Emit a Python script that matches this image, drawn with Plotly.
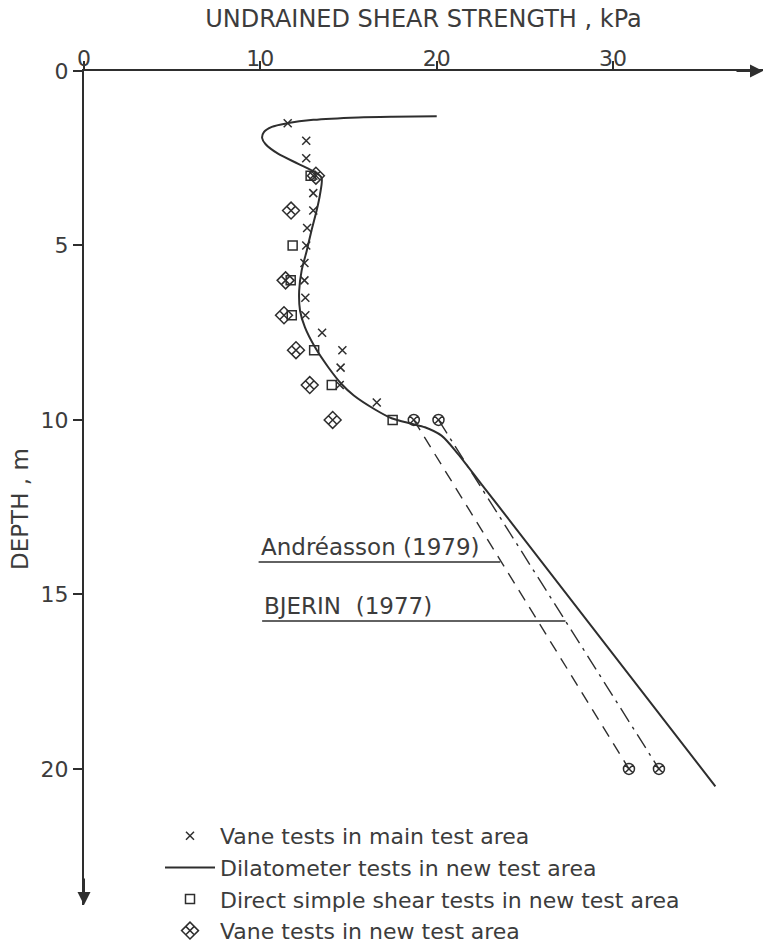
import plotly.graph_objects as go

# ---------------- data ----------------
# Vane tests in main test area (x markers)
vane_main_su = [11.55, 12.6, 12.6, 13.0, 13.0, 13.0, 12.65, 12.6, 12.5, 12.5, 12.55, 12.55, 13.5, 14.65, 14.55, 14.5, 16.6]
vane_main_depth = [1.5, 2.0, 2.5, 3.0, 3.5, 4.0, 4.5, 5.0, 5.5, 6.0, 6.5, 7.0, 7.5, 8.0, 8.5, 9.0, 9.5]

# Dilatometer tests in new test area (solid curve)
dmt_su = [20.0, 17.5, 15.55, 13.0, 11.5, 10.65, 10.2, 10.1, 10.3, 11.0, 12.15, 13.1, 13.47, 13.38, 13.19,
          12.9, 12.63, 12.34, 12.2, 12.25, 12.53, 13.1, 13.85, 14.6, 15.3, 16.5, 17.44, 18.57, 19.33,
          20.27, 21.2, 22.52, 23.55, 35.8]
dmt_depth = [1.30, 1.31, 1.33, 1.40, 1.50, 1.60, 1.75, 1.92, 2.10, 2.37, 2.66, 2.90, 3.06, 3.54, 4.00,
             4.57, 5.15, 5.72, 6.30, 6.87, 7.35, 7.92, 8.49, 8.97, 9.30, 9.70, 9.95, 10.11, 10.21,
             10.45, 10.97, 11.83, 12.50, 20.50]

# Direct simple shear tests in new test area (squares)
dss_su = [12.85, 11.83, 11.72, 11.78, 13.05, 14.05, 17.5]
dss_depth = [3.0, 5.0, 6.0, 7.0, 8.0, 9.0, 10.0]

# Vane tests in new test area (diamonds)
vane_new_su = [13.15, 11.74, 11.43, 11.34, 12.02, 12.8, 14.1]
vane_new_depth = [3.0, 4.0, 6.0, 7.0, 8.0, 9.0, 10.0]

# Andréasson (1979) - dashed, and BJERIN (1977) - dash-dot
andreasson_su = [18.7, 30.9]
andreasson_depth = [10.0, 20.0]
bjerin_su = [20.1, 32.6]
bjerin_depth = [10.0, 20.0]

# label leader lines: [x start, x end], depth
andreasson_leader_x = [9.9, 23.6]
andreasson_leader_depth = 14.07
bjerin_leader_x = [10.1, 27.3]
bjerin_leader_depth = 15.76

x_ticks = [0, 10, 20, 30]
y_ticks = [0, 5, 10, 15, 20]

INK = "#2e2e2e"
TXT = "#3c3c3c"
FONT = "DejaVu Sans"

fig = go.Figure()

fig.add_trace(go.Scatter(
    x=vane_main_su, y=vane_main_depth, mode="markers",
    name="Vane tests in main test area",
    marker=dict(symbol="x-thin", size=8, color=INK, line=dict(width=1.5, color=INK)),
))
fig.add_trace(go.Scatter(
    x=dmt_su, y=dmt_depth, mode="lines",
    name="Dilatometer tests in new test area",
    line=dict(color=INK, width=2, shape="spline", smoothing=0.8),
))
fig.add_trace(go.Scatter(
    x=dss_su, y=dss_depth, mode="markers",
    name="Direct simple shear tests in new test area",
    marker=dict(symbol="square-open", size=9, color=INK, line=dict(width=1.5, color=INK)),
))
fig.add_trace(go.Scatter(
    x=vane_new_su, y=vane_new_depth, mode="markers",
    name="Vane tests in new test area",
    marker=dict(symbol="diamond-x-open", size=13, color=INK, line=dict(width=1.5, color=INK)),
))
fig.add_trace(go.Scatter(
    x=andreasson_su, y=andreasson_depth, mode="lines+markers", showlegend=False,
    name="Andréasson (1979)",
    line=dict(color=INK, width=1.4, dash="12px,8px"),
    marker=dict(symbol="circle-x-open", size=11, color=INK, line=dict(width=1.5, color=INK)),
))
fig.add_trace(go.Scatter(
    x=bjerin_su, y=bjerin_depth, mode="lines+markers", showlegend=False,
    name="BJERIN (1977)",
    line=dict(color=INK, width=1.4, dash="16px,6px,3px,6px"),
    marker=dict(symbol="circle-x-open", size=11, color=INK, line=dict(width=1.5, color=INK)),
))

shapes = [
    dict(type="line", xref="x", yref="y", x0=andreasson_leader_x[0], x1=andreasson_leader_x[1],
         y0=andreasson_leader_depth, y1=andreasson_leader_depth, line=dict(color=INK, width=1.5)),
    dict(type="line", xref="x", yref="y", x0=bjerin_leader_x[0], x1=bjerin_leader_x[1],
         y0=bjerin_leader_depth, y1=bjerin_leader_depth, line=dict(color=INK, width=1.5)),
]

L, R, T, B = 84, 2, 71, 43
W, H = 765, 948
pw, ph = W - L - R, H - T - B

annotations = [
    dict(x=andreasson_leader_x[0], y=andreasson_leader_depth, xref="x", yref="y",
         text="Andréasson (1979)", showarrow=False, xanchor="left", yanchor="bottom",
         yshift=0, font=dict(family=FONT, size=23, color=TXT)),
    dict(x=bjerin_leader_x[0], y=bjerin_leader_depth, xref="x", yref="y",
         text="BJERIN  (1977)", showarrow=False, xanchor="left", yanchor="bottom",
         yshift=0, font=dict(family=FONT, size=23, color=TXT)),
    # y-axis title
    dict(x=(20 - L) / pw, y=(H - B - 509) / ph, xref="paper", yref="paper", text="DEPTH , m",
         showarrow=False, textangle=-90, xanchor="center", yanchor="middle",
         font=dict(family=FONT, size=23, color=TXT)),
    # axis arrowheads
    dict(x=1, y=1, xref="paper", yref="paper", ax=-28, ay=0, text="", showarrow=True,
         arrowhead=2, arrowsize=1.3, arrowwidth=2, arrowcolor=INK, standoff=0),
    dict(x=0, y=0, xref="paper", yref="paper", ax=0, ay=-28, text="", showarrow=True,
         arrowhead=2, arrowsize=1.3, arrowwidth=2, arrowcolor=INK, standoff=0),
]

fig.update_layout(
    width=W, height=H,
    margin=dict(l=L, r=R, t=T, b=B, autoexpand=False),
    paper_bgcolor="white", plot_bgcolor="white",
    font=dict(family=FONT, color=TXT),
    shapes=shapes, annotations=annotations,
    legend=dict(x=(160 - L) / pw, y=(H - B - 815) / ph, xanchor="left", yanchor="top",
                bgcolor="rgba(0,0,0,0)", font=dict(family=FONT, size=22, color=TXT),
                itemwidth=50, tracegroupgap=0),
    xaxis=dict(
        side="top", range=[0, 38.5], tickvals=x_ticks,
        ticks="outside", ticklen=8, tickwidth=1.5, tickcolor=INK,
        ticklabelstandoff=-14,
        showline=True, linecolor=INK, linewidth=2, showgrid=False, zeroline=False,
        tickfont=dict(family=FONT, size=22, color=TXT),
        title=dict(text="UNDRAINED SHEAR STRENGTH , kPa", standoff=12,
                   font=dict(family=FONT, size=24, color=TXT)),
    ),
    yaxis=dict(
        range=[23.9, 0], tickvals=y_ticks,
        ticks="outside", ticklen=9, tickwidth=1.5, tickcolor=INK,
        showline=True, linecolor=INK, linewidth=2, showgrid=False, zeroline=False,
        tickfont=dict(family=FONT, size=22, color=TXT),
    ),
)

fig.write_html("out.html")
